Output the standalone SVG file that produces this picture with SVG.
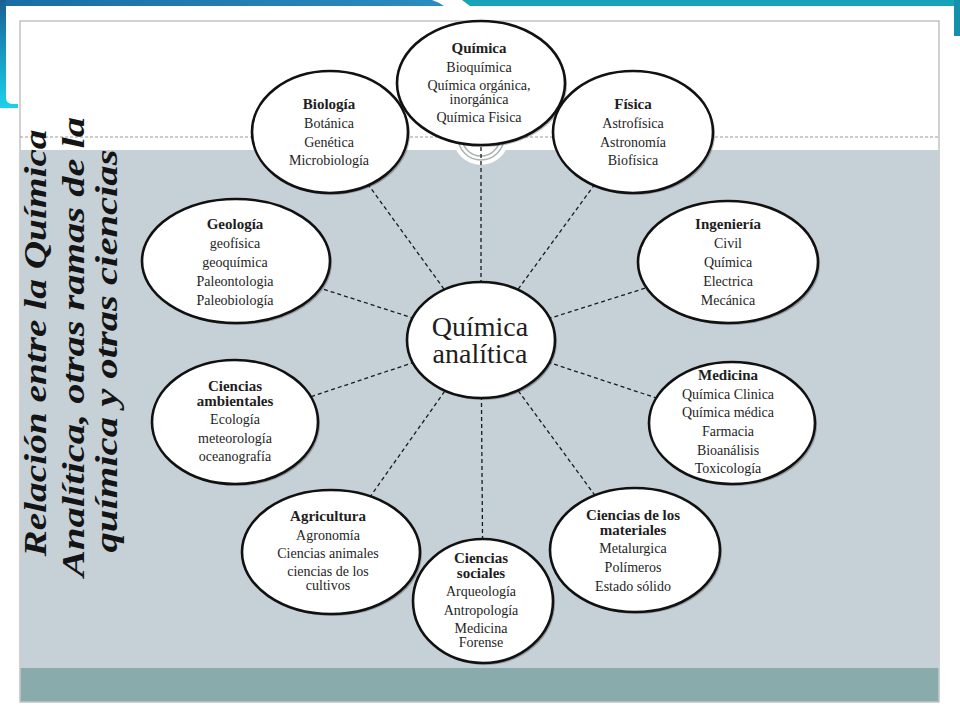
<svg xmlns="http://www.w3.org/2000/svg" width="960" height="720" viewBox="0 0 960 720">
<defs>
<linearGradient id="gLeft" x1="0" y1="0" x2="0" y2="1">
<stop offset="0" stop-color="#1a5f96"/>
<stop offset="1" stop-color="#19d2ec"/>
</linearGradient>
<linearGradient id="gTopL" x1="0" y1="0" x2="1" y2="0">
<stop offset="0" stop-color="#1a6ca4"/>
<stop offset="1" stop-color="#2a8cc0"/>
</linearGradient>
<style>
.node ellipse.e{fill:#ffffff;stroke:#111;stroke-width:2.6}
.node ellipse.s{fill:#3a3a3a;opacity:0.35}
.node text{font-family:"Liberation Serif","DejaVu Serif",serif;font-size:14px;fill:#1e1e1e;text-anchor:middle}
.node text.h{font-weight:bold;font-size:15px}
#connectors line{stroke:#1a1a1a;stroke-width:1.3;stroke-dasharray:4 3}
.title{font-family:"Liberation Serif","DejaVu Serif",serif;font-weight:bold;font-style:italic;font-size:32px;fill:#141414;text-anchor:middle}
</style>
</defs>
<rect width="960" height="720" fill="#ffffff"/>
<!-- slide decoration -->
<path d="M0,0 H432 Q438,2 444,6 H0 Z" fill="url(#gTopL)"/>
<path d="M462,0 H960 V6 H470 Q466,3 462,0 Z" fill="#17a3b9"/>
<path d="M0,0 H6 V98 Q6,104 14,104 H18 V108 H0 Z" fill="url(#gLeft)"/>
<rect x="954" y="0" width="6" height="36" fill="#1490ab"/>
<!-- frame -->
<rect x="20" y="21" width="919" height="681" fill="#ffffff" stroke="#b3b3b3" stroke-width="1.2"/>
<line x1="20" y1="137" x2="939" y2="137" stroke="#9a9a9a" stroke-width="1.2" stroke-dasharray="3 2"/>
<rect x="20.6" y="150" width="917.8" height="518" fill="#c5d0d7"/>
<rect x="20.6" y="668" width="917.8" height="33.4" fill="#8aabab"/>
<circle cx="481" cy="137" r="28" fill="#ffffff"/>
<circle cx="481" cy="137" r="23" fill="none" stroke="#a9b3b3" stroke-width="1.5"/>
<circle cx="481" cy="137" r="19" fill="none" stroke="#a9b3b3" stroke-width="1.5"/>
<!-- title -->
<g id="title">
<text class="title" transform="translate(46,343) rotate(-90)" textLength="427" lengthAdjust="spacingAndGlyphs">Relación entre la Química</text>
<text class="title" transform="translate(84,347) rotate(-90)" textLength="460" lengthAdjust="spacingAndGlyphs">Analítica, otras ramas de la</text>
<text class="title" transform="translate(117,351) rotate(-90)" textLength="403" lengthAdjust="spacingAndGlyphs">química y otras ciencias</text>
</g>
<!-- connectors -->
<g id="connectors">
<line x1="481" y1="340" x2="481" y2="83"/>
<line x1="481" y1="340" x2="330" y2="132"/>
<line x1="481" y1="340" x2="633" y2="132"/>
<line x1="481" y1="340" x2="236" y2="261"/>
<line x1="481" y1="340" x2="728" y2="262"/>
<line x1="481" y1="340" x2="235" y2="422"/>
<line x1="481" y1="340" x2="732" y2="423"/>
<line x1="481" y1="340" x2="331" y2="552"/>
<line x1="481" y1="340" x2="635" y2="550"/>
<line x1="481" y1="340" x2="483" y2="601"/>
</g>
<!-- nodes -->
<g id="n-quimica" class="node">
<ellipse class="s" cx="483" cy="85" rx="84" ry="62"/>
<ellipse class="e" cx="481" cy="83" rx="84" ry="62"/>
<text class="h" x="479" y="53">Química</text>
<text x="479" y="72">Bioquímica</text>
<text x="479" y="90">Química orgánica,</text>
<text x="479" y="104">inorgánica</text>
<text x="479" y="122">Química Fisica</text>
</g>
<g id="n-biologia" class="node">
<ellipse class="s" cx="332" cy="134" rx="78" ry="61"/>
<ellipse class="e" cx="330" cy="132" rx="78" ry="61"/>
<text class="h" x="329" y="109">Biología</text>
<text x="329" y="128">Botánica</text>
<text x="329" y="147">Genética</text>
<text x="329" y="165">Microbiología</text>
</g>
<g id="n-fisica" class="node">
<ellipse class="s" cx="635" cy="134" rx="80" ry="61"/>
<ellipse class="e" cx="633" cy="132" rx="80" ry="61"/>
<text class="h" x="633" y="109">Física</text>
<text x="633" y="128">Astrofísica</text>
<text x="633" y="147">Astronomía</text>
<text x="633" y="165">Biofísica</text>
</g>
<g id="n-geologia" class="node">
<ellipse class="s" cx="238" cy="263" rx="94" ry="62"/>
<ellipse class="e" cx="236" cy="261" rx="94" ry="62"/>
<text class="h" x="235" y="229">Geología</text>
<text x="235" y="248">geofísica</text>
<text x="235" y="267">geoquímica</text>
<text x="235" y="286">Paleontologia</text>
<text x="235" y="305">Paleobiología</text>
</g>
<g id="n-ingenieria" class="node">
<ellipse class="s" cx="730" cy="264" rx="90" ry="61"/>
<ellipse class="e" cx="728" cy="262" rx="90" ry="61"/>
<text class="h" x="728" y="229">Ingeniería</text>
<text x="728" y="248">Civil</text>
<text x="728" y="267">Química</text>
<text x="728" y="286">Electrica</text>
<text x="728" y="305">Mecánica</text>
</g>
<g id="n-centro" class="node">
<ellipse class="s" cx="483" cy="342" rx="74" ry="58"/>
<ellipse class="e" cx="481" cy="340" rx="74" ry="58"/>
<text x="480" y="336" style="font-size:28px">Química</text>
<text x="480" y="363" style="font-size:28px">analítica</text>
</g>
<g id="n-ambientales" class="node">
<ellipse class="s" cx="237" cy="424" rx="83" ry="62"/>
<ellipse class="e" cx="235" cy="422" rx="83" ry="62"/>
<text class="h" x="235" y="391">Ciencias</text>
<text class="h" x="235" y="406">ambientales</text>
<text x="235" y="424">Ecología</text>
<text x="235" y="443">meteorología</text>
<text x="235" y="461">oceanografía</text>
</g>
<g id="n-medicina" class="node">
<ellipse class="s" cx="734" cy="425" rx="83" ry="61"/>
<ellipse class="e" cx="732" cy="423" rx="83" ry="61"/>
<text class="h" x="728" y="380">Medicina</text>
<text x="728" y="399">Química Clinica</text>
<text x="728" y="417">Química médica</text>
<text x="728" y="436">Farmacia</text>
<text x="728" y="455">Bioanálisis</text>
<text x="728" y="473">Toxicología</text>
</g>
<g id="n-agricultura" class="node">
<ellipse class="s" cx="333" cy="554" rx="89" ry="62"/>
<ellipse class="e" cx="331" cy="552" rx="89" ry="62"/>
<text class="h" x="328" y="521">Agricultura</text>
<text x="328" y="540">Agronomía</text>
<text x="328" y="558">Ciencias animales</text>
<text x="328" y="576">ciencias de los</text>
<text x="328" y="590">cultivos</text>
</g>
<g id="n-materiales" class="node">
<ellipse class="s" cx="637" cy="552" rx="85" ry="62"/>
<ellipse class="e" cx="635" cy="550" rx="85" ry="62"/>
<text class="h" x="633" y="520">Ciencias de los</text>
<text class="h" x="633" y="535">materiales</text>
<text x="633" y="553">Metalurgica</text>
<text x="633" y="572">Polímeros</text>
<text x="633" y="591">Estado sólido</text>
</g>
<g id="n-sociales" class="node">
<ellipse class="s" cx="485" cy="603" rx="70" ry="62"/>
<ellipse class="e" cx="483" cy="601" rx="70" ry="62"/>
<text class="h" x="481" y="563">Ciencias</text>
<text class="h" x="481" y="578">sociales</text>
<text x="481" y="596">Arqueología</text>
<text x="481" y="615">Antropología</text>
<text x="481" y="633">Medicina</text>
<text x="481" y="647">Forense</text>
</g>
</svg>
